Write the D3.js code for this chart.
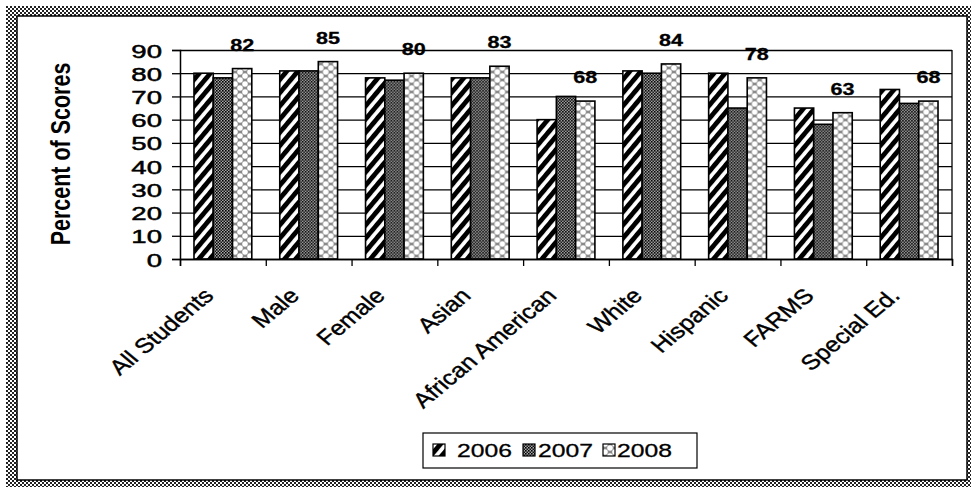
<!DOCTYPE html>
<html>
<head>
<meta charset="utf-8">
<script src="https://cdn.jsdelivr.net/npm/d3@7/dist/d3.min.js"></script>
<style>
  html, body { margin: 0; padding: 0; background: #fff; }
  svg { display: block; }
  text { font-family: "Liberation Sans", Arial, sans-serif; fill: #000; }
</style>
</head>
<body>
<svg id="chart" width="971" height="487"></svg>
<script>
// ---- data ----
const categories = ["All Students", "Male", "Female", "Asian", "African American", "White", "Hispanic", "FARMS", "Special Ed."];
const series = ["2006", "2007", "2008"];
const values2006 = [80, 81, 78, 78, 60, 81, 80, 65, 73];
const values2007 = [78, 81, 77, 78, 70, 80, 65, 58, 67];
const values2008 = [82, 85, 80, 83, 68, 84, 78, 63, 68];
const yTicks = [0, 10, 20, 30, 40, 50, 60, 70, 80, 90];
const yTitle = "Percent of Scores";

const seriesValues = [values2006, values2007, values2008];

// ---- layout ----
const W = 971, H = 487;
const plot = { left: 180, right: 952, top: 50, bottom: 259 };
const SX = 1.27; // horizontal stretch of the scanned picture

const svg = d3.select("#chart");
const defs = svg.append("defs");

// frame checker pattern
const pf = defs.append("pattern").attr("id", "frameChk").attr("patternUnits", "userSpaceOnUse")
  .attr("width", 4).attr("height", 4);
pf.append("rect").attr("width", 4).attr("height", 4).attr("fill", "#fff");
pf.append("rect").attr("width", 2).attr("height", 2).attr("fill", "#222");
pf.append("rect").attr("x", 2).attr("y", 2).attr("width", 2).attr("height", 2).attr("fill", "#222");

// 2006: diagonal stripes
const p1 = defs.append("pattern").attr("id", "pat2006").attr("patternUnits", "userSpaceOnUse")
  .attr("width", 8.5).attr("height", 10).attr("patternTransform", "rotate(40)");
p1.append("rect").attr("width", 8.5).attr("height", 10).attr("fill", "#fff");
p1.append("rect").attr("width", 4.8).attr("height", 10).attr("fill", "#000");

// 2007: dense checker
const p2 = defs.append("pattern").attr("id", "pat2007").attr("patternUnits", "userSpaceOnUse")
  .attr("width", 3).attr("height", 3);
p2.append("rect").attr("width", 3).attr("height", 3).attr("fill", "#a8a8a8");
p2.append("rect").attr("width", 1.6).attr("height", 1.6).attr("fill", "#000");
p2.append("rect").attr("x", 1.5).attr("y", 1.5).attr("width", 1.5).attr("height", 1.5).attr("fill", "#111");

// 2008: gray checker with white dots
const p3 = defs.append("pattern").attr("id", "pat2008").attr("patternUnits", "userSpaceOnUse")
  .attr("width", 10).attr("height", 8);
p3.append("rect").attr("width", 10).attr("height", 8).attr("fill", "#8a8a8a");
[[0,0],[10,0],[0,8],[10,8],[5,4]].forEach(([cx, cy]) =>
  p3.append("circle").attr("cx", cx).attr("cy", cy).attr("r", 2.8).attr("fill", "#fff"));

const fills = ["url(#pat2006)", "url(#pat2007)", "url(#pat2008)"];

// ---- outer frame ----
svg.append("rect").attr("x", 6).attr("y", 6).attr("width", W).attr("height", H)
  .attr("fill", "url(#frameChk)");
svg.append("rect").attr("x", 17).attr("y", 16).attr("width", 950).attr("height", 464)
  .attr("fill", "#fff").attr("stroke", "#000").attr("stroke-width", 1.5);

// ---- scales ----
const x0 = d3.scaleBand().domain(categories).range([plot.left, plot.right]).padding(0);
const x1 = d3.scaleBand().domain(series)
  .range([x0.bandwidth() * 0.163, x0.bandwidth() * 0.837]).padding(0);
const y = d3.scaleLinear().domain([0, 90]).range([plot.bottom, plot.top]);
const xEdges = d3.scaleLinear().domain([0, categories.length]).range([plot.left, plot.right]);

// gridlines
const grid = svg.append("g").attr("transform", `translate(${plot.left},0)`)
  .call(d3.axisLeft(y).tickValues(yTicks).tickSize(-(plot.right - plot.left)).tickFormat(""));
grid.select(".domain").remove();
grid.selectAll("line").attr("stroke", "#000").attr("stroke-width", 1.3);

// right border
svg.append("line").attr("x1", plot.right).attr("x2", plot.right)
  .attr("y1", y(90)).attr("y2", y(0)).attr("stroke", "#000").attr("stroke-width", 1.3);

// bars
const groups = svg.append("g").selectAll("g").data(categories).join("g")
  .attr("transform", d => `translate(${x0(d)},0)`);
groups.selectAll("rect").data((d, i) => series.map((s, j) => ({ s, j, v: seriesValues[j][i] })))
  .join("rect")
  .attr("x", d => x1(d.s))
  .attr("width", x1.bandwidth())
  .attr("y", d => y(d.v))
  .attr("height", d => y(0) - y(d.v))
  .attr("fill", d => fills[d.j])
  .attr("stroke", "#000").attr("stroke-width", 1.6);

// value labels on 2008 bars
svg.append("g").selectAll("text").data(categories).join("text")
  .attr("transform", (d, i) => `translate(${x0(d) + x1("2008") + x1.bandwidth() / 2},${y(values2008[i]) - 18}) scale(${SX},1)`)
  .attr("text-anchor", "middle")
  .attr("font-size", 17).attr("font-weight", "bold")
  .attr("stroke", "#000").attr("stroke-width", 0.3)
  .text((d, i) => values2008[i]);

// y axis
const yAxis = svg.append("g").attr("transform", `translate(${plot.left},0)`)
  .call(d3.axisLeft(y).tickValues(yTicks).tickSize(8).tickPadding(0));
yAxis.select(".domain").attr("stroke", "#000").attr("stroke-width", 1.5);
yAxis.selectAll(".tick line").attr("stroke", "#000").attr("stroke-width", 1.3);
yAxis.selectAll(".tick text")
  .attr("x", null).attr("dy", null)
  .attr("transform", `translate(-18,7) scale(1.45,1)`)
  .attr("text-anchor", "end")
  .attr("font-size", 19)
  .attr("stroke", "#000").attr("stroke-width", 0.5)
  .style("font-family", '"Liberation Sans", Arial, sans-serif')
  .attr("fill", "#000");

// x axis (ticks on category boundaries)
const xAxis = svg.append("g").attr("transform", `translate(0,${plot.bottom})`)
  .call(d3.axisBottom(xEdges).tickValues(d3.range(categories.length + 1)).tickSize(7).tickFormat(""));
xAxis.select(".domain").attr("stroke", "#000").attr("stroke-width", 1.5);
xAxis.selectAll(".tick line").attr("stroke", "#000").attr("stroke-width", 1.3);

// category labels
svg.append("g").selectAll("text").data(categories).join("text")
  .attr("transform", d => `translate(${x0(d) + x0.bandwidth() / 2 - 8},${plot.bottom + 38}) scale(1.2,1) rotate(-45)`)
  .attr("text-anchor", "end")
  .attr("font-size", 21)
  .attr("stroke", "#000").attr("stroke-width", 0.4)
  .text(d => d);

// y title
svg.append("text")
  .attr("transform", `translate(70,154) scale(${SX},1) rotate(-90)`)
  .attr("text-anchor", "middle")
  .attr("font-size", 21.5).attr("font-weight", "bold")
  .text(yTitle);

// legend
const lg = svg.append("g");
lg.append("rect").attr("x", 423).attr("y", 433).attr("width", 274).attr("height", 35)
  .attr("fill", "#fff").attr("stroke", "#000").attr("stroke-width", 1.2);
const lx = [433, 523, 603];
const ltx = [457, 538, 617];
series.forEach((s, j) => {
  lg.append("rect").attr("x", lx[j]).attr("y", 444).attr("width", 12).attr("height", 12)
    .attr("fill", fills[j]).attr("stroke", "#000").attr("stroke-width", 1.2);
  lg.append("text").attr("transform", `translate(${ltx[j]},457) scale(1.3,1)`)
    .attr("font-size", 19)
    .attr("stroke", "#000").attr("stroke-width", 0.3)
    .text(s);
});
</script>
</body>
</html>
